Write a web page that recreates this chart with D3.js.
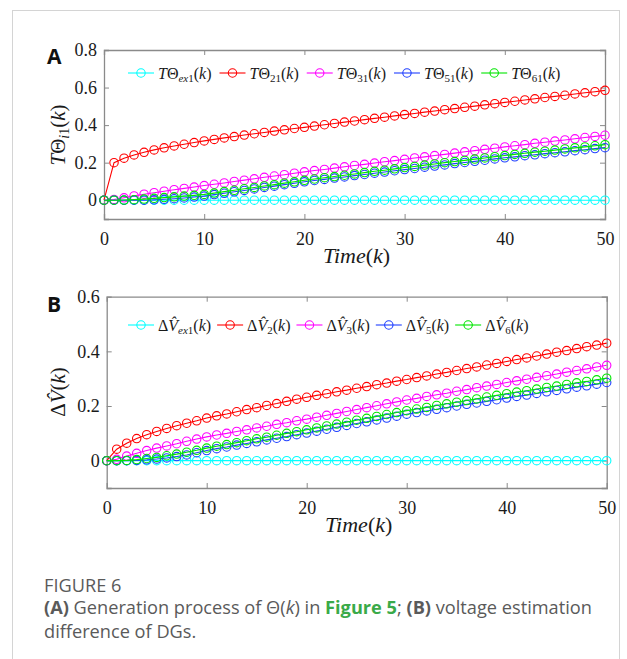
<!DOCTYPE html>
<html><head><meta charset="utf-8">
<script src="https://cdn.jsdelivr.net/npm/d3@7"></script>
<style>
html,body{margin:0;padding:0;background:#fff;}
svg{display:block;}
</style></head>
<body>
<svg id="chart" width="627" height="659"></svg>
<script>
// ---------- DATA ----------
const steps = d3.range(0, 51);           // k = 0..50
const xTicks = [0, 10, 20, 30, 40, 50];

// Panel A: TΘ_i1(k)
const thetaEx1 = steps.map(() => 0);
const theta21 = [0,0.200,0.224,0.241,0.255,0.268,0.279,0.289,0.298,0.307,0.316,
  0.324,0.332,0.339,0.347,0.354,0.361,0.368,0.375,0.382,0.388,
  0.395,0.402,0.409,0.416,0.422,0.429,0.436,0.442,0.449,0.456,
  0.462,0.469,0.475,0.482,0.488,0.495,0.501,0.508,0.514,0.521,
  0.527,0.534,0.540,0.547,0.553,0.559,0.566,0.572,0.578,0.585];
const theta31 = [0,0.004,0.013,0.023,0.032,0.040,0.048,0.056,0.063,0.070,0.078,
  0.085,0.092,0.100,0.107,0.114,0.122,0.129,0.136,0.144,0.151,
  0.158,0.164,0.171,0.178,0.185,0.191,0.198,0.205,0.211,0.218,
  0.225,0.231,0.238,0.244,0.251,0.258,0.264,0.271,0.277,0.284,
  0.290,0.296,0.303,0.309,0.315,0.321,0.327,0.334,0.340,0.346];
const theta51 = [0,0,0,0,0,0.002,0.005,0.008,0.012,0.017,0.022,
  0.030,0.037,0.045,0.052,0.060,0.068,0.075,0.083,0.090,0.098,
  0.105,0.111,0.118,0.124,0.131,0.137,0.144,0.150,0.157,0.163,
  0.169,0.176,0.182,0.188,0.195,0.201,0.207,0.213,0.220,0.226,
  0.231,0.237,0.242,0.248,0.253,0.258,0.264,0.269,0.275,0.280];
const theta61 = [0,0,0.001,0.003,0.006,0.010,0.014,0.018,0.022,0.026,0.031,
  0.038,0.046,0.053,0.061,0.068,0.076,0.083,0.091,0.098,0.106,
  0.113,0.120,0.126,0.133,0.140,0.147,0.154,0.160,0.167,0.174,
  0.180,0.187,0.193,0.200,0.206,0.212,0.219,0.225,0.232,0.238,
  0.244,0.250,0.256,0.261,0.267,0.273,0.279,0.284,0.290,0.296];
const yTicksA = [0, 0.2, 0.4, 0.6, 0.8];

// Panel B: ΔV̂_i(k)
const dvEx1 = steps.map(() => 0);
const dv2 = [0,0.042,0.064,0.081,0.095,0.107,0.118,0.128,0.137,0.146,0.156,
  0.164,0.171,0.179,0.187,0.194,0.202,0.209,0.217,0.225,0.232,
  0.239,0.245,0.252,0.258,0.265,0.271,0.278,0.284,0.291,0.297,
  0.304,0.310,0.317,0.323,0.330,0.337,0.343,0.350,0.356,0.363,
  0.370,0.376,0.383,0.390,0.397,0.403,0.410,0.417,0.423,0.430];
const dv3 = [0,0.005,0.017,0.027,0.037,0.046,0.054,0.062,0.071,0.079,0.087,
  0.094,0.100,0.107,0.113,0.120,0.126,0.133,0.139,0.146,0.152,
  0.159,0.166,0.173,0.180,0.187,0.194,0.201,0.208,0.215,0.222,
  0.228,0.235,0.241,0.247,0.254,0.260,0.267,0.273,0.279,0.286,
  0.292,0.298,0.305,0.311,0.317,0.324,0.330,0.336,0.343,0.349];
const dv5 = [0,0,0,0.001,0.003,0.006,0.010,0.015,0.021,0.029,0.037,
  0.044,0.050,0.057,0.063,0.069,0.076,0.082,0.088,0.095,0.101,
  0.108,0.115,0.122,0.129,0.136,0.142,0.149,0.156,0.163,0.170,
  0.176,0.182,0.188,0.194,0.200,0.206,0.211,0.217,0.223,0.229,
  0.235,0.240,0.246,0.252,0.257,0.263,0.269,0.274,0.280,0.286];
const dv6 = [0,0,0.001,0.004,0.008,0.012,0.018,0.024,0.031,0.038,0.046,
  0.053,0.059,0.066,0.073,0.080,0.086,0.093,0.100,0.106,0.113,
  0.120,0.127,0.134,0.141,0.148,0.155,0.162,0.169,0.176,0.183,
  0.189,0.195,0.202,0.208,0.214,0.220,0.226,0.233,0.239,0.245,
  0.251,0.256,0.262,0.268,0.273,0.279,0.285,0.290,0.296,0.302];
const yTicksB = [0, 0.2, 0.4, 0.6];

const seriesColors = ["#00ffff", "#ff0000", "#ff00ff", "#1f3fff", "#00e600"];
const subsA = ["ex1", "21", "31", "51", "61"];
const subsB = ["ex1", "2", "3", "5", "6"];

// ---------- DRAW ----------
const svg = d3.select("#chart");
const SERIF = "'Liberation Serif','Times New Roman',serif";

// outer frame
svg.append("rect").attr("x", 12.5).attr("y", 10.5).attr("width", 607).attr("height", 700)
  .attr("fill", "none").attr("stroke", "#d4d4d4").attr("stroke-width", 1);

function subLabel(t, sub) {
  const parts = sub.match(/[a-z]+|[0-9]+/g);
  parts.forEach((p, i) => {
    const ts = t.append("tspan").attr("font-size", 11).text(p);
    if (/[a-z]/.test(p)) ts.attr("font-style", "italic");
    if (i === 0) ts.attr("dy", 3);
  });
}
function tail(t, dy) {
  const p = t.append("tspan").text("(");
  if (dy) p.attr("dy", dy);
  t.append("tspan").attr("font-style", "italic").text("k");
  t.append("tspan").text(")");
}

function panel(cfg) {
  const x = d3.scaleLinear().domain([0, 50]).range([cfg.left, cfg.right]);
  const y = d3.scaleLinear().domain(cfg.yDomain).range([cfg.bottom, cfg.top]);
  const g = svg.append("g");
  const axisColor = "#8a8a8a";

  const xb = g.append("g").attr("transform", `translate(0,${cfg.bottom})`)
    .call(d3.axisBottom(x).tickValues(xTicks).tickSize(-5).tickPadding(13).tickFormat(d3.format("d")));
  const xt = g.append("g").attr("transform", `translate(0,${cfg.top})`)
    .call(d3.axisTop(x).tickValues(xTicks).tickSize(-5).tickFormat(""));
  const yl = g.append("g").attr("transform", `translate(${cfg.left},0)`)
    .call(d3.axisLeft(y).tickValues(cfg.yTicks).tickSize(-5).tickPadding(7)
      .tickFormat(d => d === 0 ? "0" : d3.format(".1f")(d)));
  const yr = g.append("g").attr("transform", `translate(${cfg.right},0)`)
    .call(d3.axisRight(y).tickValues(cfg.yTicks).tickSize(-5).tickFormat(""));
  [xb, xt, yl, yr].forEach(a => {
    a.attr("font-family", null).attr("font-size", null);
    a.selectAll("path").attr("stroke", axisColor).attr("stroke-width", 1.3);
    a.selectAll("line").attr("stroke", axisColor).attr("stroke-width", 1);
    a.selectAll("text").style("font-family", SERIF).style("font-size", "18px").attr("fill", "#1a1a1a");
  });
  [xb, xt].forEach(a => a.selectAll(".tick").filter(d => d === 0 || d === 50).select("line").remove());
  [yl, yr].forEach(a => a.selectAll(".tick").filter(d => d === cfg.yDomain[1]).select("line").remove());

  const line = d3.line().x((d, i) => x(steps[i])).y(d => y(d));
  cfg.series.forEach((s, si) => {
    const sg = g.append("g");
    sg.append("path").datum(s).attr("d", line).attr("fill", "none")
      .attr("stroke", seriesColors[si]).attr("stroke-width", 1.1);
    sg.selectAll("circle").data(s).join("circle")
      .attr("cx", (d, i) => x(steps[i])).attr("cy", d => y(d)).attr("r", 4.2)
      .attr("fill", "none").attr("stroke", seriesColors[si]).attr("stroke-width", 1.1);
  });

  svg.append("text").attr("x", cfg.letterX).attr("y", cfg.letterY).text(cfg.letter)
    .attr("font-family", "'Open Sans','Liberation Sans',sans-serif").attr("font-weight", 700)
    .attr("font-size", 21).attr("fill", "#111");

  const xl = svg.append("text").attr("x", (cfg.left + cfg.right) / 2 + 2).attr("y", cfg.bottom + 44)
    .attr("text-anchor", "middle").attr("font-family", SERIF).attr("font-size", 22).attr("fill", "#1a1a1a");
  xl.append("tspan").attr("font-style", "italic").text("Time");
  xl.append("tspan").text("(");
  xl.append("tspan").attr("font-style", "italic").text("k");
  xl.append("tspan").text(")");

  const ylab = svg.append("text")
    .attr("transform", `translate(${cfg.yLabelX},${cfg.yLabelY}) rotate(-90)`)
    .attr("text-anchor", "middle").attr("font-family", SERIF).attr("font-size", 21).attr("fill", "#1a1a1a");
  cfg.yLabel(ylab);

  let lx = 128;
  const ly = cfg.legendY;
  cfg.series.forEach((s, si) => {
    svg.append("line").attr("x1", lx).attr("x2", lx + 26).attr("y1", ly).attr("y2", ly)
      .attr("stroke", seriesColors[si]).attr("stroke-width", 1.1);
    svg.append("circle").attr("cx", lx + 13).attr("cy", ly).attr("r", 4.2)
      .attr("fill", "none").attr("stroke", seriesColors[si]).attr("stroke-width", 1.1);
    const t = svg.append("text").attr("x", lx + 30).attr("y", ly + 5.5)
      .attr("font-family", SERIF).attr("font-size", 16).attr("fill", "#1a1a1a");
    cfg.legendLabel(t, cfg.subs[si]);
    lx += 30 + t.node().getComputedTextLength() + cfg.legendGap;
  });
}

panel({
  left: 104, right: 605, top: 50, bottom: 219,
  yDomain: [-0.1, 0.8], yTicks: yTicksA,
  series: [thetaEx1, theta21, theta31, theta51, theta61],
  subs: subsA, letter: "A", letterX: 47, letterY: 64,
  yLabelX: 65, yLabelY: 135, legendY: 73, legendGap: 8,
  yLabel: t => {
    t.append("tspan").attr("font-style", "italic").text("T");
    t.append("tspan").text("Θ");
    t.append("tspan").attr("font-size", 14).attr("dy", 4).attr("font-style", "italic").text("i");
    t.append("tspan").attr("font-size", 14).text("1");
    tail(t, -4);
  },
  legendLabel: (t, sub) => {
    t.append("tspan").attr("font-style", "italic").text("T");
    t.append("tspan").text("Θ");
    subLabel(t, sub);
    tail(t, -3);
  }
});

panel({
  left: 106.7, right: 606.7, top: 296.7, bottom: 488,
  yDomain: [-0.1, 0.6], yTicks: yTicksB,
  series: [dvEx1, dv2, dv3, dv5, dv6],
  subs: subsB, letter: "B", letterX: 47, letterY: 312,
  yLabelX: 65, yLabelY: 392, legendY: 325, legendGap: 6,
  yLabel: t => {
    t.append("tspan").text("Δ");
    t.append("tspan").attr("font-style", "italic").text("V\u0302");
    tail(t, 0);
  },
  legendLabel: (t, sub) => {
    t.append("tspan").text("Δ");
    t.append("tspan").attr("font-style", "italic").text("V\u0302");
    subLabel(t, sub);
    tail(t, -3);
  }
});

// caption
const CAP = "'Open Sans','Lato',sans-serif";
const CS = 18.2;
svg.append("text").attr("x", 44).attr("y", 592).attr("font-family", CAP).attr("font-size", CS)
  .attr("fill", "#5a5a5a").text("FIGURE 6");
const c1 = svg.append("text").attr("x", 44).attr("y", 614).attr("font-family", CAP)
  .attr("font-size", CS).attr("fill", "#5a5a5a");
c1.append("tspan").attr("font-weight", 700).text("(A)");
c1.append("tspan").text(" Generation process of Θ(");
c1.append("tspan").attr("font-style", "italic").text("k");
c1.append("tspan").text(") in ");
c1.append("tspan").attr("font-weight", 700).attr("fill", "#3aaa49").text("Figure 5");
c1.append("tspan").text("; ");
c1.append("tspan").attr("font-weight", 700).text("(B)");
c1.append("tspan").text(" voltage estimation");
svg.append("text").attr("x", 44).attr("y", 638).attr("font-family", CAP).attr("font-size", CS)
  .attr("fill", "#5a5a5a").text("difference of DGs.");
</script>
</body></html>
